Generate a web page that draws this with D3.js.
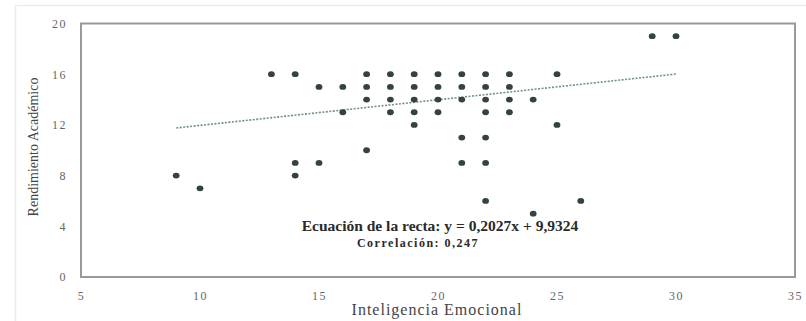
<!DOCTYPE html>
<html><head><meta charset="utf-8">
<script src="https://cdn.jsdelivr.net/npm/d3@7"></script>
<style>
body{margin:0;background:#fff;}
svg{display:block;font-family:"Liberation Serif","Times New Roman",serif;}
</style></head>
<body><svg id="c" width="806" height="321"></svg>
<script>
const xValues = [29,30, 13,14,17,18,19,20,21,22,23,25, 15,16,17,18,19,20,21,22,23, 17,18,19,20,21,22,23,24, 16,18,19,20,22,23, 19,25, 21,22, 17, 14,15,21,22, 9,14, 10, 22,26, 24];
const yValues = [19,19, 16,16,16,16,16,16,16,16,16,16, 15,15,15,15,15,15,15,15,15, 14,14,14,14,14,14,14,14, 13,13,13,13,13,13, 12,12, 11,11, 10, 9,9,9,9, 8,8, 7, 6,6, 5];
const xTicks = [5,10,15,20,25,30,35];
const yTicks = [0,4,8,12,16,20];
const trendRange = [9,30];
const slope = 0.2027, intercept = 9.9324;
const xTitle = "Inteligencia Emocional";
const yTitle = "Rendimiento Académico";
const eqText = "Ecuación de la recta: y = 0,2027x + 9,9324";
const corrText = "Correlación: 0,247";

const svg = d3.select("#c");
const x = d3.scaleLinear().domain([5,35]).range([81,795]);
const y = d3.scaleLinear().domain([0,20]).range([277,23.5]);

// outer faint frame
svg.append("rect").attr("x",15.5).attr("y",5.5).attr("width",800).attr("height",330)
  .attr("fill","none").attr("stroke","#ececec").attr("stroke-width",1.5);

// plot frame
svg.append("rect").attr("x",x(5)).attr("y",y(20)).attr("width",x(35)-x(5)).attr("height",y(0)-y(20))
  .attr("fill","none").attr("stroke","#9a9a9a").attr("stroke-width",2);

// axes (labels only)
const xAxis = d3.axisBottom(x).tickValues(xTicks).tickSize(0).tickPadding(14).tickFormat(d3.format("d"));
const gx = svg.append("g").attr("transform",`translate(0,${y(0)})`).call(xAxis);
const yAxis = d3.axisLeft(y).tickValues(yTicks).tickSize(0).tickPadding(14).tickFormat(d3.format("d"));
const gy = svg.append("g").attr("transform",`translate(${x(5)},0)`).call(yAxis);
[gx,gy].forEach(g=>{
  g.select(".domain").remove();
  g.selectAll("text").attr("font-family","Liberation Serif, serif").attr("font-size",12)
   .attr("fill","#666").style("letter-spacing","1.5px");
});

// trend line
const line = d3.line().x(d=>x(d)).y(d=>y(slope*d+intercept));
svg.append("path").datum(trendRange).attr("d",line).attr("fill","none")
  .attr("stroke","#6f8f8c").attr("stroke-width",1.6).attr("stroke-dasharray","2,1.5");

// points
svg.append("g").selectAll("ellipse").data(xValues.map((v,i)=>[v,yValues[i]])).join("ellipse")
  .attr("cx",d=>x(d[0])).attr("cy",d=>y(d[1])).attr("rx",3.4).attr("ry",2.9)
  .attr("fill","#34433f");

// equation text
svg.append("text").attr("x",440).attr("y",231).attr("text-anchor","middle")
  .attr("font-size",15.5).attr("font-weight","bold").attr("fill","#2a2a2a").text(eqText);
svg.append("text").attr("x",418).attr("y",247).attr("text-anchor","middle")
  .attr("font-size",12).attr("font-weight","bold").attr("fill","#2a2a2a")
  .style("letter-spacing","1.5px").text(corrText);

// axis titles
svg.append("text").attr("x",437).attr("y",315).attr("text-anchor","middle")
  .attr("font-size",16).attr("fill","#444").style("letter-spacing","1px").text(xTitle);
svg.append("text").attr("transform","translate(38,147) rotate(-90)").attr("text-anchor","middle")
  .attr("font-size",14).attr("fill","#444").text(yTitle);
</script></body></html>
